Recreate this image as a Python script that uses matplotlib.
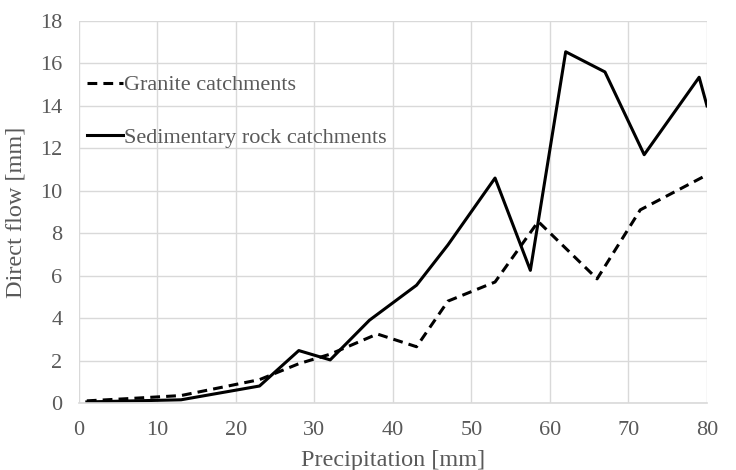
import matplotlib

matplotlib.use("Agg")

import matplotlib.pyplot as plt

# precipitation [mm] and direct flow [mm] per series
granite_x = [1, 6, 13, 23, 28, 32, 38, 43, 47, 53, 58.5, 66, 71.5, 80]
granite_y = [0.1, 0.2, 0.35, 1.1, 1.85, 2.3, 3.25, 2.65, 4.8, 5.7, 8.55, 5.85, 9.1, 10.75]

sedim_x = [1, 13, 23, 28, 32, 37, 43, 47, 53, 57.5, 62, 67, 72, 79, 80]
sedim_y = [0.05, 0.15, 0.8, 2.47, 2.03, 3.9, 5.55, 7.45, 10.6, 6.25, 16.55, 15.6, 11.7, 15.35, 14.0]

x_ticks = list(range(0, 81, 10))
y_ticks = list(range(0, 19, 2))

text_color = "#595959"
grid_color = "#d9d9d9"

plt.rcParams["font.family"] = ["Liberation Serif", "DejaVu Serif"]

fig = plt.figure(figsize=(7.36, 4.70), dpi=100)
ax = fig.add_axes([0.1073, 0.1426, 0.8533, 0.8127])

ax.plot(granite_x, granite_y, color="black", lw=2.2, linestyle=(0, (3.2, 2)),
        label="Granite catchments")
ax.plot(sedim_x, sedim_y, color="black", lw=2.2,
        label="Sedimentary rock catchments")

ax.set_xlim(0, 80)
ax.set_ylim(0, 18)
ax.set_xticks(x_ticks)
ax.set_yticks(y_ticks)
ax.grid(True, color=grid_color, lw=1.0)
ax.set_axisbelow(True)
for side in ("top", "right", "left"):
    ax.spines[side].set_visible(False)
ax.spines["bottom"].set_color(grid_color)
ax.spines["bottom"].set_linewidth(1.2)
ax.tick_params(axis="x", length=0, labelsize=16, labelcolor=text_color, pad=13)
ax.tick_params(axis="y", length=0, labelsize=16, labelcolor=text_color, pad=12)

ax.set_xlabel("Precipitation [mm]", fontsize=17.5, color=text_color, labelpad=7.5)
ax.set_ylabel("Direct flow [mm]", fontsize=17.5, color=text_color, labelpad=10)

ax.legend(loc="upper left", bbox_to_anchor=(0.012, 0.859), frameon=False,
          fontsize=16, labelcolor=text_color, handlelength=1.65,
          handletextpad=0.05, labelspacing=1.43, borderaxespad=0.0, borderpad=0.0)

fig.savefig("out.png", dpi=100)
plt.close(fig)
